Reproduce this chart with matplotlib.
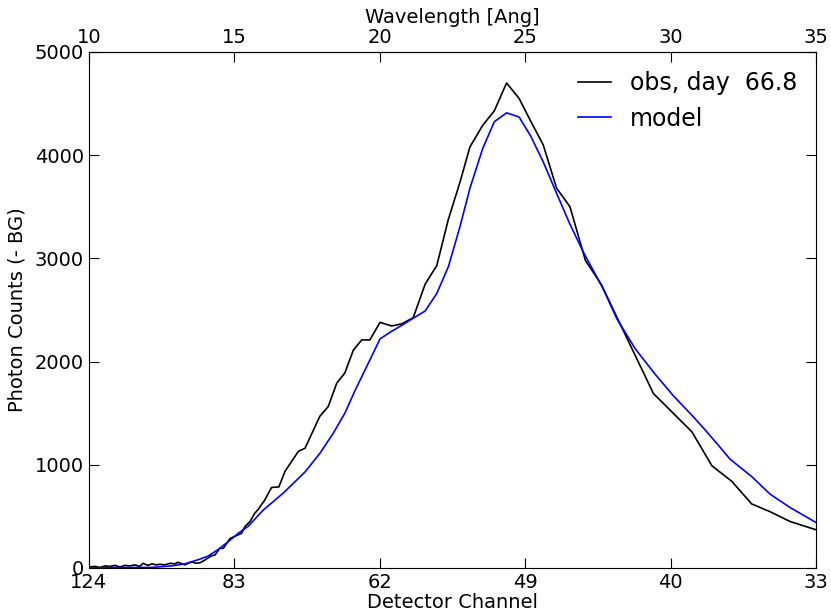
import matplotlib.pyplot as plt
import numpy as np

# observed spectrum (wavelength in Ang, photon counts minus background)
obs_wave = [10.00, 10.21, 10.38, 10.55, 10.72, 10.89, 11.07, 11.24, 11.41, 11.58,
            11.75, 11.86, 12.03, 12.17, 12.30, 12.44, 12.61, 12.79, 12.96, 13.06,
            13.30, 13.53, 13.68, 13.82, 13.99, 14.20, 14.33, 14.50, 14.62, 14.85,
            15.25, 15.36, 15.54, 15.70, 15.80, 16.05, 16.28, 16.53, 16.74, 17.20,
            17.43, 17.94, 18.23, 18.52, 18.80, 19.09, 19.38, 19.66, 20.01, 20.41,
            20.75, 21.15, 21.56, 21.96, 22.36, 22.76, 23.10, 23.54, 23.94, 24.36,
            24.79, 25.17, 25.62, 26.08, 26.54, 27.07, 27.61, 29.41, 30.73, 31.42,
            32.10, 32.79, 33.42, 34.11, 35.00]
obs_counts = [10, 15, 5, 20, 15, 25, 10, 25, 20, 30,
              15, 45, 25, 40, 30, 35, 30, 45, 40, 55,
              30, 60, 45, 50, 77, 116, 125, 190, 190, 285,
              336, 400, 450, 530, 560, 660, 780, 785, 935, 1130,
              1160, 1470, 1565, 1790, 1890, 2110, 2210, 2210, 2380, 2345,
              2365, 2425, 2750, 2930, 3380, 3740, 4080, 4290, 4430, 4700,
              4550, 4340, 4100, 3680, 3500, 2980, 2750, 1690, 1320, 990,
              840, 620, 545, 450, 370]

# model spectrum
mod_wave = [10.00, 11.07, 12.16, 12.84, 13.30, 13.76, 14.10, 14.45, 14.79, 15.13,
            15.48, 15.99, 16.68, 17.43, 17.94, 18.40, 18.80, 19.15, 19.60, 20.01,
            20.39, 20.75, 21.15, 21.56, 21.96, 22.36, 22.76, 23.10, 23.54, 23.94,
            24.36, 24.79, 25.18, 25.62, 26.08, 26.54, 27.00, 27.69, 28.15, 28.78,
            29.46, 30.09, 30.73, 31.18, 31.76, 32.04, 32.79, 33.42, 34.11, 35.00]
mod_counts = [0, 5, 5, 20, 40, 80, 115, 180, 255, 335,
              405, 560, 725, 930, 1110, 1305, 1500, 1720, 1980, 2220,
              2290, 2350, 2420, 2490, 2660, 2920, 3310, 3680, 4065, 4325,
              4410, 4370, 4190, 3935, 3630, 3330, 3060, 2700, 2415, 2125,
              1880, 1670, 1480, 1340, 1150, 1055, 885, 715, 585, 440]

wave_ticks = [10, 15, 20, 25, 30, 35]
channel_labels = ['124', '83', '62', '49', '40', '33']

fig = plt.figure(figsize=(8.31, 6.16), dpi=100)
ax = fig.add_axes([0.107, 0.078, 0.875, 0.8376])

ax.plot(obs_wave, obs_counts, color='black', lw=1.2, label='obs, day  66.8')
ax.plot(mod_wave, mod_counts, color='blue', lw=1.2, label='model')

ax.set_xlim(10, 35)
ax.set_ylim(0, 5000)
ax.set_xticks(wave_ticks)
ax.set_xticklabels(channel_labels)
ax.set_yticks(np.arange(0, 5001, 1000))
ax.tick_params(direction='in', length=7, labelsize=14, right=True, top=False)
ax.set_xlabel('Detector Channel', fontsize=14, labelpad=1)
ax.set_ylabel('Photon Counts (- BG)', fontsize=14, labelpad=6)

top = ax.secondary_xaxis('top')
top.set_xticks(wave_ticks)
top.tick_params(direction='in', length=7, labelsize=14)
top.set_xlabel('Wavelength [Ang]', fontsize=14, labelpad=4)

ax.legend(loc='upper right', frameon=False, fontsize=17, handlelength=1.4,
          borderaxespad=0.4)

fig.savefig('out.png', dpi=100)
